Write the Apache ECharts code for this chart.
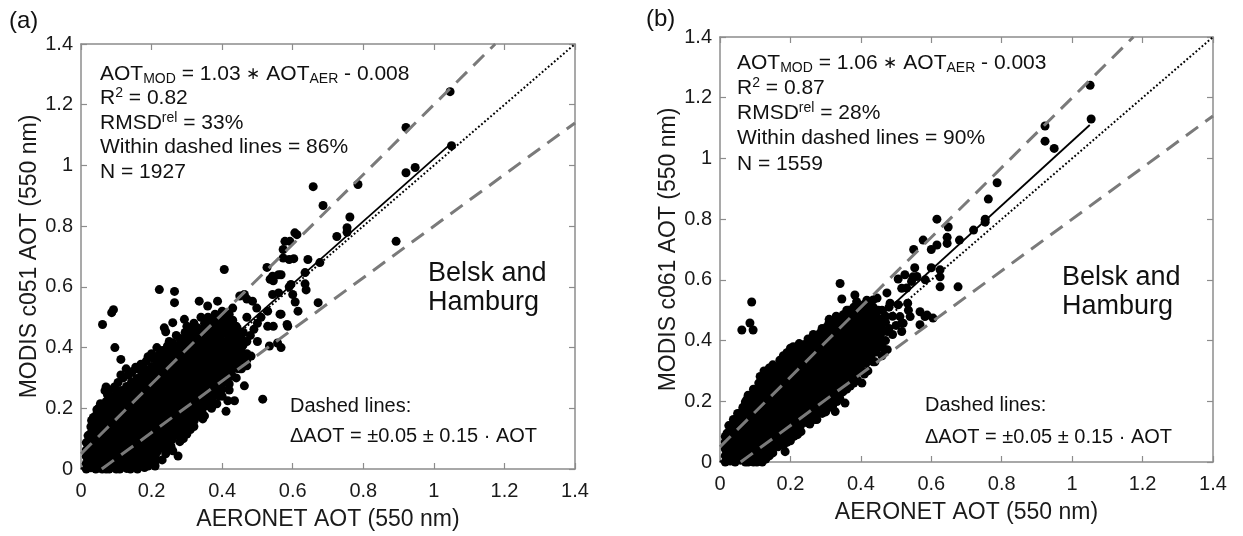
<!DOCTYPE html>
<html>
<head>
<meta charset="utf-8">
<script src="https://cdn.jsdelivr.net/npm/echarts@6/dist/echarts.min.js"></script>
<style>
  html, body { margin: 0; padding: 0; background: #fff; }
  #chart { width: 1243px; height: 536px; }
</style>
</head>
<body>
<div id="chart"></div>
<script>
// Axis ticks shared by both panels
const tickValues = [0, 0.2, 0.4, 0.6, 0.8, 1, 1.2, 1.4];
const tickLabels = ['0', '0.2', '0.4', '0.6', '0.8', '1', '1.2', '1.4'];

// Panel (a): MODIS c051 vs AERONET — dense core, columns of [x, [y...]]
const coreA = [
  [0.015, [0.000, 0.018, 0.041, 0.063, 0.087]],
  [0.028, [0.004, 0.026, 0.047, 0.072, 0.094, 0.118, 0.139]],
  [0.042, [0.000, 0.021, 0.044, 0.066, 0.091, 0.112, 0.136, 0.158, 0.176]],
  [0.057, [0.008, 0.030, 0.055, 0.077, 0.098, 0.124, 0.146, 0.169, 0.191]],
  [0.071, [0.000, 0.019, 0.043, 0.064, 0.089, 0.110, 0.133, 0.157, 0.178, 0.201, 0.222]],
  [0.086, [0.006, 0.031, 0.052, 0.076, 0.099, 0.121, 0.144, 0.166, 0.190, 0.212, 0.236]],
  [0.100, [0.000, 0.020, 0.042, 0.066, 0.087, 0.111, 0.134, 0.156, 0.179, 0.203, 0.224, 0.248]],
  [0.114, [0.009, 0.032, 0.054, 0.077, 0.100, 0.123, 0.145, 0.168, 0.192, 0.214, 0.237, 0.259]],
  [0.129, [0.002, 0.023, 0.045, 0.068, 0.091, 0.113, 0.137, 0.159, 0.182, 0.205, 0.227, 0.251, 0.272]],
  [0.143, [0.012, 0.035, 0.057, 0.081, 0.103, 0.126, 0.148, 0.172, 0.194, 0.217, 0.240, 0.262, 0.286]],
  [0.158, [0.004, 0.026, 0.049, 0.071, 0.094, 0.117, 0.140, 0.163, 0.186, 0.208, 0.231, 0.254, 0.277, 0.298]],
  [0.172, [0.018, 0.039, 0.062, 0.085, 0.108, 0.130, 0.153, 0.176, 0.199, 0.222, 0.244, 0.268, 0.291, 0.312]],
  [0.186, [0.027, 0.051, 0.073, 0.096, 0.119, 0.142, 0.165, 0.188, 0.210, 0.233, 0.256, 0.279, 0.302, 0.325]],
  [0.200, [0.041, 0.063, 0.086, 0.109, 0.132, 0.154, 0.177, 0.201, 0.223, 0.246, 0.269, 0.292, 0.314, 0.338]],
  [0.215, [0.055, 0.077, 0.100, 0.123, 0.146, 0.169, 0.191, 0.214, 0.237, 0.260, 0.283, 0.305, 0.328, 0.349]],
  [0.229, [0.068, 0.091, 0.114, 0.137, 0.160, 0.182, 0.205, 0.228, 0.251, 0.274, 0.296, 0.319, 0.342, 0.363]],
  [0.243, [0.083, 0.106, 0.128, 0.151, 0.174, 0.197, 0.219, 0.242, 0.265, 0.288, 0.311, 0.333, 0.356, 0.378]],
  [0.258, [0.097, 0.120, 0.143, 0.165, 0.188, 0.211, 0.234, 0.257, 0.279, 0.302, 0.325, 0.348, 0.371, 0.392]],
  [0.272, [0.112, 0.134, 0.157, 0.180, 0.203, 0.226, 0.248, 0.271, 0.294, 0.317, 0.340, 0.362, 0.385, 0.404]],
  [0.286, [0.126, 0.149, 0.172, 0.194, 0.217, 0.240, 0.263, 0.286, 0.308, 0.331, 0.354, 0.377, 0.399, 0.418]],
  [0.300, [0.141, 0.163, 0.186, 0.209, 0.232, 0.255, 0.277, 0.300, 0.323, 0.346, 0.369, 0.391, 0.412, 0.431]],
  [0.315, [0.158, 0.180, 0.203, 0.226, 0.249, 0.271, 0.294, 0.317, 0.340, 0.363, 0.385, 0.408, 0.429, 0.446]],
  [0.329, [0.174, 0.197, 0.220, 0.243, 0.265, 0.288, 0.311, 0.334, 0.357, 0.379, 0.402, 0.424, 0.443]],
  [0.343, [0.191, 0.214, 0.237, 0.259, 0.282, 0.305, 0.328, 0.351, 0.373, 0.396, 0.419, 0.440, 0.458]],
  [0.358, [0.208, 0.231, 0.253, 0.276, 0.299, 0.322, 0.345, 0.367, 0.390, 0.413, 0.436, 0.455, 0.471]],
  [0.372, [0.226, 0.248, 0.271, 0.294, 0.317, 0.339, 0.362, 0.385, 0.408, 0.431, 0.452, 0.469]],
  [0.386, [0.244, 0.266, 0.289, 0.312, 0.335, 0.357, 0.380, 0.403, 0.426, 0.448, 0.467, 0.482]],
  [0.400, [0.263, 0.286, 0.308, 0.331, 0.354, 0.377, 0.400, 0.422, 0.445, 0.466, 0.484]],
  [0.415, [0.284, 0.306, 0.329, 0.352, 0.375, 0.398, 0.420, 0.443, 0.463, 0.480]],
  [0.429, [0.306, 0.329, 0.352, 0.374, 0.397, 0.420, 0.441, 0.462, 0.479]],
  [0.443, [0.331, 0.354, 0.376, 0.399, 0.422, 0.444, 0.463]],
  [0.457, [0.358, 0.381, 0.404, 0.426, 0.447]]
];

// Panel (a): ragged edges of the core
const edgeA = [
  [0.020, 0.110], [0.030, 0.160], [0.045, 0.195], [0.055, 0.215], [0.075, 0.245], [0.080, 0.260],
  [0.095, 0.270], [0.105, 0.285], [0.120, 0.300], [0.135, 0.310], [0.145, 0.320], [0.155, 0.335],
  [0.175, 0.340], [0.185, 0.355], [0.205, 0.365], [0.220, 0.375], [0.230, 0.390], [0.245, 0.405],
  [0.260, 0.415], [0.280, 0.430], [0.295, 0.450], [0.310, 0.460], [0.330, 0.465], [0.350, 0.480],
  [0.370, 0.490], [0.390, 0.500], [0.410, 0.500], [0.430, 0.490],
  [0.060, 0.000], [0.080, 0.000], [0.110, 0.000], [0.140, 0.000], [0.160, 0.000], [0.190, 0.010],
  [0.215, 0.030], [0.240, 0.050], [0.255, 0.075], [0.280, 0.090], [0.300, 0.115], [0.320, 0.140],
  [0.345, 0.165], [0.370, 0.200], [0.385, 0.215], [0.400, 0.240], [0.420, 0.280], [0.440, 0.300],
  [0.455, 0.330], [0.470, 0.340], [0.470, 0.380], [0.460, 0.450], [0.470, 0.420]
];

// Panel (a): scattered points around and beyond the core
const sparseA = [
  [0.061, 0.476], [0.087, 0.515], [0.092, 0.525], [0.096, 0.400], [0.113, 0.361], [0.128, 0.330],
  [0.113, 0.310], [0.071, 0.270], [0.068, 0.258], [0.050, 0.200], [0.035, 0.170], [0.170, 0.345],
  [0.160, 0.330], [0.190, 0.370], [0.200, 0.380], [0.215, 0.400], [0.222, 0.591], [0.265, 0.585],
  [0.265, 0.548], [0.236, 0.465], [0.240, 0.452], [0.260, 0.482], [0.293, 0.493], [0.335, 0.553],
  [0.359, 0.537], [0.387, 0.553], [0.406, 0.657], [0.250, 0.420], [0.270, 0.440], [0.300, 0.470],
  [0.320, 0.480], [0.340, 0.500], [0.360, 0.500], [0.380, 0.510], [0.400, 0.520], [0.420, 0.510],
  [0.430, 0.530], [0.450, 0.570], [0.470, 0.560], [0.463, 0.575], [0.486, 0.553], [0.498, 0.530],
  [0.275, 0.043], [0.260, 0.060], [0.200, 0.020], [0.180, 0.005], [0.210, 0.010], [0.230, 0.030],
  [0.250, 0.070], [0.290, 0.100], [0.310, 0.130], [0.321, 0.160], [0.330, 0.175], [0.350, 0.175],
  [0.340, 0.200], [0.360, 0.210], [0.392, 0.240], [0.411, 0.190], [0.416, 0.225], [0.435, 0.225],
  [0.420, 0.260], [0.360, 0.274], [0.378, 0.274], [0.463, 0.274], [0.515, 0.230], [0.482, 0.372],
  [0.534, 0.405], [0.557, 0.415], [0.567, 0.400], [0.435, 0.465], [0.500, 0.480], [0.529, 0.470],
  [0.586, 0.470], [0.567, 0.510], [0.529, 0.520], [0.450, 0.330], [0.470, 0.360], [0.440, 0.380],
  [0.460, 0.410], [0.480, 0.440], [0.500, 0.420], [0.490, 0.460], [0.470, 0.500], [0.510, 0.500],
  [0.450, 0.440], [0.440, 0.470],
  [0.543, 0.575], [0.543, 0.635], [0.567, 0.640], [0.595, 0.608], [0.527, 0.664], [0.545, 0.620],
  [0.560, 0.580], [0.578, 0.750], [0.592, 0.750], [0.612, 0.772], [0.573, 0.723], [0.573, 0.695],
  [0.590, 0.690], [0.603, 0.693], [0.643, 0.690], [0.677, 0.680], [0.560, 0.640], [0.536, 0.625],
  [0.635, 0.647], [0.635, 0.610], [0.638, 0.590], [0.590, 0.600], [0.600, 0.575], [0.607, 0.550],
  [0.615, 0.520], [0.672, 0.548], [0.564, 0.510], [0.584, 0.476], [0.545, 0.470], [0.606, 0.778],
  [0.658, 0.930], [0.686, 0.868], [0.725, 0.766], [0.754, 0.795], [0.754, 0.780], [0.762, 0.830],
  [0.785, 0.937], [0.893, 0.750], [0.921, 1.125], [0.921, 0.976], [0.947, 0.993], [1.046, 1.243],
  [1.050, 1.065]
];

// Panel (b): MODIS c061 vs AERONET — dense core, columns of [x, [y...]]
const coreB = [
  [0.015, [0.000, 0.021, 0.043, 0.066, 0.084]],
  [0.029, [0.003, 0.025, 0.048, 0.071, 0.093, 0.112]],
  [0.043, [0.000, 0.019, 0.042, 0.065, 0.088, 0.110, 0.133]],
  [0.058, [0.006, 0.029, 0.052, 0.074, 0.097, 0.120, 0.143, 0.162]],
  [0.072, [0.000, 0.021, 0.044, 0.067, 0.090, 0.112, 0.135, 0.158, 0.181, 0.198]],
  [0.086, [0.005, 0.028, 0.051, 0.074, 0.096, 0.119, 0.142, 0.165, 0.188, 0.214]],
  [0.100, [0.010, 0.033, 0.056, 0.079, 0.101, 0.124, 0.147, 0.170, 0.193, 0.216, 0.236]],
  [0.115, [0.018, 0.041, 0.064, 0.086, 0.109, 0.132, 0.155, 0.178, 0.200, 0.223, 0.246, 0.263]],
  [0.129, [0.030, 0.053, 0.076, 0.099, 0.121, 0.144, 0.167, 0.190, 0.213, 0.235, 0.258, 0.281]],
  [0.143, [0.044, 0.067, 0.089, 0.112, 0.135, 0.158, 0.181, 0.203, 0.226, 0.249, 0.272, 0.294]],
  [0.158, [0.058, 0.081, 0.104, 0.127, 0.149, 0.172, 0.195, 0.218, 0.241, 0.263, 0.286, 0.305]],
  [0.172, [0.072, 0.095, 0.118, 0.140, 0.163, 0.186, 0.209, 0.232, 0.254, 0.277, 0.300, 0.322]],
  [0.186, [0.082, 0.105, 0.128, 0.151, 0.174, 0.196, 0.219, 0.242, 0.265, 0.288, 0.310, 0.333, 0.349]],
  [0.200, [0.095, 0.118, 0.141, 0.164, 0.186, 0.209, 0.232, 0.255, 0.278, 0.300, 0.323, 0.346, 0.362]],
  [0.215, [0.108, 0.131, 0.154, 0.177, 0.199, 0.222, 0.245, 0.268, 0.291, 0.313, 0.336, 0.359, 0.372]],
  [0.229, [0.121, 0.144, 0.167, 0.189, 0.212, 0.235, 0.258, 0.281, 0.303, 0.326, 0.349, 0.372, 0.382]],
  [0.243, [0.137, 0.160, 0.183, 0.205, 0.228, 0.251, 0.274, 0.297, 0.319, 0.342, 0.365, 0.387]],
  [0.258, [0.150, 0.173, 0.196, 0.218, 0.241, 0.264, 0.287, 0.310, 0.332, 0.355, 0.378, 0.398]],
  [0.272, [0.163, 0.186, 0.209, 0.232, 0.254, 0.277, 0.300, 0.323, 0.346, 0.368, 0.391, 0.410]],
  [0.286, [0.177, 0.200, 0.223, 0.245, 0.268, 0.291, 0.314, 0.337, 0.359, 0.382, 0.405, 0.425]],
  [0.300, [0.189, 0.212, 0.235, 0.258, 0.280, 0.303, 0.326, 0.349, 0.372, 0.394, 0.417, 0.438]],
  [0.315, [0.204, 0.227, 0.250, 0.272, 0.295, 0.318, 0.341, 0.364, 0.386, 0.409, 0.432, 0.449]],
  [0.329, [0.220, 0.243, 0.266, 0.288, 0.311, 0.334, 0.357, 0.380, 0.402, 0.425, 0.448, 0.460]],
  [0.343, [0.238, 0.260, 0.283, 0.306, 0.329, 0.352, 0.374, 0.397, 0.420, 0.443, 0.466]],
  [0.358, [0.254, 0.277, 0.300, 0.322, 0.345, 0.368, 0.391, 0.414, 0.436, 0.459, 0.478]],
  [0.372, [0.272, 0.295, 0.318, 0.340, 0.363, 0.386, 0.409, 0.432, 0.454, 0.477, 0.489]],
  [0.386, [0.288, 0.311, 0.334, 0.357, 0.379, 0.402, 0.425, 0.448, 0.471, 0.494]],
  [0.400, [0.306, 0.329, 0.352, 0.374, 0.397, 0.420, 0.443, 0.466, 0.488, 0.502]],
  [0.415, [0.326, 0.349, 0.372, 0.394, 0.417, 0.440, 0.463, 0.486, 0.501]],
  [0.429, [0.346, 0.369, 0.391, 0.414, 0.437, 0.460, 0.483, 0.497]],
  [0.443, [0.362, 0.385, 0.408, 0.431, 0.453, 0.476, 0.490]],
  [0.458, [0.379, 0.402, 0.425, 0.448, 0.470]]
];

// Panel (b): ragged edges of the core
const edgeB = [
  [0.025, 0.120], [0.050, 0.160], [0.065, 0.180], [0.080, 0.220], [0.095, 0.240], [0.110, 0.260],
  [0.125, 0.300], [0.140, 0.310], [0.150, 0.320], [0.170, 0.335], [0.180, 0.350], [0.200, 0.375],
  [0.225, 0.390], [0.250, 0.405], [0.265, 0.420], [0.290, 0.440], [0.310, 0.460], [0.335, 0.470],
  [0.350, 0.485], [0.365, 0.500], [0.390, 0.515], [0.410, 0.520], [0.430, 0.510], [0.450, 0.500],
  [0.080, 0.000], [0.095, 0.000], [0.130, 0.010], [0.150, 0.030], [0.165, 0.050], [0.190, 0.065],
  [0.210, 0.085], [0.230, 0.100], [0.255, 0.125], [0.270, 0.140], [0.300, 0.165], [0.320, 0.185],
  [0.340, 0.210], [0.370, 0.250], [0.390, 0.270], [0.420, 0.300], [0.440, 0.330], [0.460, 0.350],
  [0.475, 0.370], [0.475, 0.430], [0.470, 0.480]
];

// Panel (b): scattered points around and beyond the core
const sparseB = [
  [0.062, 0.435], [0.085, 0.458], [0.094, 0.435], [0.090, 0.527],
  [0.020, 0.095], [0.038, 0.140], [0.066, 0.150], [0.076, 0.205], [0.114, 0.282], [0.133, 0.293],
  [0.160, 0.304], [0.190, 0.360], [0.208, 0.380], [0.237, 0.386], [0.284, 0.424], [0.304, 0.446],
  [0.320, 0.457], [0.105, 0.000], [0.120, 0.000], [0.140, 0.020], [0.185, 0.034], [0.180, 0.055],
  [0.200, 0.070], [0.220, 0.090], [0.246, 0.130], [0.275, 0.140], [0.290, 0.160], [0.310, 0.180],
  [0.327, 0.166], [0.332, 0.199], [0.349, 0.231], [0.355, 0.194], [0.360, 0.240], [0.380, 0.260],
  [0.403, 0.260], [0.410, 0.290], [0.435, 0.330], [0.463, 0.376], [0.470, 0.400], [0.490, 0.420],
  [0.480, 0.440], [0.500, 0.450], [0.470, 0.460], [0.490, 0.480], [0.460, 0.500], [0.480, 0.510],
  [0.341, 0.588], [0.346, 0.537], [0.383, 0.550], [0.388, 0.528], [0.417, 0.533], [0.417, 0.490],
  [0.435, 0.510], [0.446, 0.540], [0.474, 0.557], [0.483, 0.523], [0.516, 0.572], [0.525, 0.617],
  [0.544, 0.595], [0.559, 0.611], [0.511, 0.479], [0.520, 0.457], [0.516, 0.430], [0.535, 0.500],
  [0.540, 0.479], [0.568, 0.495], [0.582, 0.479], [0.568, 0.452], [0.517, 0.458], [0.605, 0.474],
  [0.588, 0.484], [0.533, 0.523], [0.506, 0.518], [0.530, 0.573], [0.506, 0.603], [0.435, 0.534],
  [0.625, 0.577], [0.676, 0.577], [0.583, 0.600], [0.553, 0.640], [0.548, 0.610], [0.600, 0.640],
  [0.625, 0.633], [0.625, 0.610], [0.550, 0.700], [0.577, 0.731], [0.600, 0.700], [0.616, 0.715],
  [0.616, 0.800], [0.648, 0.774], [0.645, 0.740], [0.645, 0.720], [0.680, 0.731], [0.720, 0.764],
  [0.753, 0.800], [0.753, 0.790], [0.762, 0.866], [0.787, 0.920], [0.923, 1.107], [0.923, 1.057],
  [0.949, 1.033], [1.051, 1.241], [1.054, 1.130],
  [0.310, 0.470], [0.330, 0.480], [0.360, 0.500], [0.380, 0.510], [0.400, 0.510], [0.420, 0.510]
];

// Regression fits: slope, offset, x range of the fitted line
const fitA = { slope: 1.03, offset: -0.008, x0: 0.01, x1: 1.05 };
const fitB = { slope: 1.06, offset: -0.003, x0: 0.01, x1: 1.05 };

// Expected-error envelope: ±(0.05 + 0.15·AOT)
const envelope = { abs: 0.05, rel: 0.15 };

const FONT = "'Liberation Sans', Arial, Helvetica, sans-serif";
const AXIS_GREY = '#8c8c8c';
const AX_MAX = 1.4;

function flatten(core, edge, sparse) {
  const pts = [];
  core.forEach(([x, ys]) => ys.forEach(y => pts.push([x, y])));
  edge.forEach(p => pts.push(p));
  sparse.forEach(p => pts.push(p));
  return pts;
}

function envelopeLines() {
  const a = envelope.abs, r = envelope.rel;
  // upper: y = (1+r)x + a, clipped at the top of the plot
  const upX1 = (AX_MAX - a) / (1 + r);
  const upper = [[0, a], [upX1, AX_MAX]];
  // lower: y = (1-r)x - a, starting where it crosses y = 0
  const loX0 = a / (1 - r);
  const lower = [[loX0, 0], [AX_MAX, (1 - r) * AX_MAX - a]];
  return [upper, lower];
}

function fitLine(f) {
  return [[f.x0, f.slope * f.x0 + f.offset], [f.x1, f.slope * f.x1 + f.offset]];
}

function labelFmt(v) {
  const i = tickValues.findIndex(t => Math.abs(t - v) < 1e-6);
  return i >= 0 ? tickLabels[i] : '';
}

function axisBase(grid) {
  return {
    type: 'value', gridIndex: grid, min: 0, max: AX_MAX, interval: 0.2,
    splitLine: { show: false },
    axisLine: { show: true, onZero: false, lineStyle: { color: AXIS_GREY, width: 1.5 } },
    axisTick: { show: true, inside: true, length: 6, lineStyle: { color: AXIS_GREY, width: 1.2 } }
  };
}

function xAxes(grid, name) {
  return [
    Object.assign(axisBase(grid), {
      position: 'bottom',
      axisLabel: { formatter: labelFmt, color: '#1a1a1a', fontSize: 20, fontFamily: FONT, margin: 12 },
      name: name, nameLocation: 'middle', nameGap: 39,
      nameTextStyle: { color: '#1a1a1a', fontSize: 23, fontFamily: FONT }
    }),
    Object.assign(axisBase(grid), { position: 'top', axisLabel: { show: false } })
  ];
}

function yAxes(grid, name) {
  return [
    Object.assign(axisBase(grid), {
      position: 'left',
      axisLabel: { formatter: labelFmt, color: '#1a1a1a', fontSize: 20, fontFamily: FONT, margin: 8 },
      name: name, nameLocation: 'middle', nameGap: 37,
      nameTextStyle: { color: '#1a1a1a', fontSize: 23, fontFamily: FONT }
    }),
    Object.assign(axisBase(grid), { position: 'right', axisLabel: { show: false } })
  ];
}

function panelSeries(xi, yi, points, fit) {
  const [upper, lower] = envelopeLines();
  const lineBase = { type: 'line', xAxisIndex: xi, yAxisIndex: yi, symbol: 'none', silent: true, animation: false };
  return [
    { type: 'scatter', xAxisIndex: xi, yAxisIndex: yi, data: points, symbol: 'circle', symbolSize: 9,
      itemStyle: { color: '#000', opacity: 1, borderWidth: 0 }, silent: true, animation: false, z: 2 },
    Object.assign({}, lineBase, { data: [[0, 0], [AX_MAX, AX_MAX]], z: 3,
      lineStyle: { color: '#000', width: 2, type: [1.8, 2.2], opacity: 1 } }),
    Object.assign({}, lineBase, { data: fitLine(fit), z: 4,
      lineStyle: { color: '#000', width: 1.8, type: 'solid', opacity: 1 } }),
    Object.assign({}, lineBase, { data: upper, z: 5,
      lineStyle: { color: '#7a7a7a', width: 3, type: [15, 9], opacity: 1 } }),
    Object.assign({}, lineBase, { data: lower, z: 5,
      lineStyle: { color: '#7a7a7a', width: 3, type: [15, 9], opacity: 1 } })
  ];
}

const TXT = '#111';
const rich = {
  n: { fontSize: 21, lineHeight: 24, fontFamily: FONT, color: TXT },
  o: { fontSize: 17, lineHeight: 24, fontFamily: FONT, color: TXT },
  s: { fontSize: 14, lineHeight: 13, verticalAlign: 'bottom', fontFamily: FONT, color: TXT },
  u: { fontSize: 14, lineHeight: 18, verticalAlign: 'top', fontFamily: FONT, color: TXT }
};

function statsBlock(x, ys, lines) {
  return lines.map((t, i) => ({
    type: 'text', x: x, y: ys[i], silent: true,
    style: { text: t, rich: rich, textVerticalAlign: 'middle', textAlign: 'left', fill: TXT, font: '21px ' + FONT }
  }));
}

function plainText(x, y, text, size, lh) {
  return {
    type: 'text', x: x, y: y, silent: true,
    style: { text: text, fill: TXT, font: size + 'px ' + FONT, textAlign: 'left', textVerticalAlign: 'middle', lineHeight: lh || size }
  };
}

const statsA = [
  '{n|AOT}{s|MOD}{n| = 1.03 }{o|∗}{n| AOT}{s|AER}{n| - 0.008}',
  '{n|R}{u|2}{n| = 0.82}',
  '{n|RMSD}{u|rel}{n| = 33%}',
  '{n|Within dashed lines = 86%}',
  '{n|N = 1927}'
];
const statsB = [
  '{n|AOT}{s|MOD}{n| = 1.06 }{o|∗}{n| AOT}{s|AER}{n| - 0.003}',
  '{n|R}{u|2}{n| = 0.87}',
  '{n|RMSD}{u|rel}{n| = 28%}',
  '{n|Within dashed lines = 90%}',
  '{n|N = 1559}'
];

const chart = echarts.init(document.getElementById('chart'), null, { renderer: 'canvas' });
chart.setOption({
  backgroundColor: '#fff',
  animation: false,
  grid: [
    { left: 81, top: 44, width: 494, height: 426 },
    { left: 720, top: 37, width: 493, height: 425 }
  ],
  xAxis: xAxes(0, 'AERONET AOT (550 nm)').concat(xAxes(1, 'AERONET AOT (550 nm)')),
  yAxis: yAxes(0, 'MODIS c051 AOT (550 nm)').concat(yAxes(1, 'MODIS c061 AOT (550 nm)')),
  series: panelSeries(0, 0, flatten(coreA, edgeA, sparseA), fitA)
    .concat(panelSeries(2, 2, flatten(coreB, edgeB, sparseB), fitB)),
  graphic: [
    plainText(9, 21, '(a)', 24),
    plainText(646, 19, '(b)', 24),
    ...statsBlock(100, [74, 98, 123, 147, 172], statsA),
    ...statsBlock(737, [63, 88, 113, 138, 164], statsB),
    plainText(428, 288, 'Belsk and\nHamburg', 27, 29),
    plainText(1062, 292, 'Belsk and\nHamburg', 27, 29),
    plainText(290, 406, 'Dashed lines:', 20),
    plainText(290, 436, 'ΔAOT = ±0.05 ± 0.15 · AOT', 20),
    plainText(925, 405, 'Dashed lines:', 20),
    plainText(925, 437, 'ΔAOT = ±0.05 ± 0.15 · AOT', 20)
  ]
});
</script>
</body>
</html>
